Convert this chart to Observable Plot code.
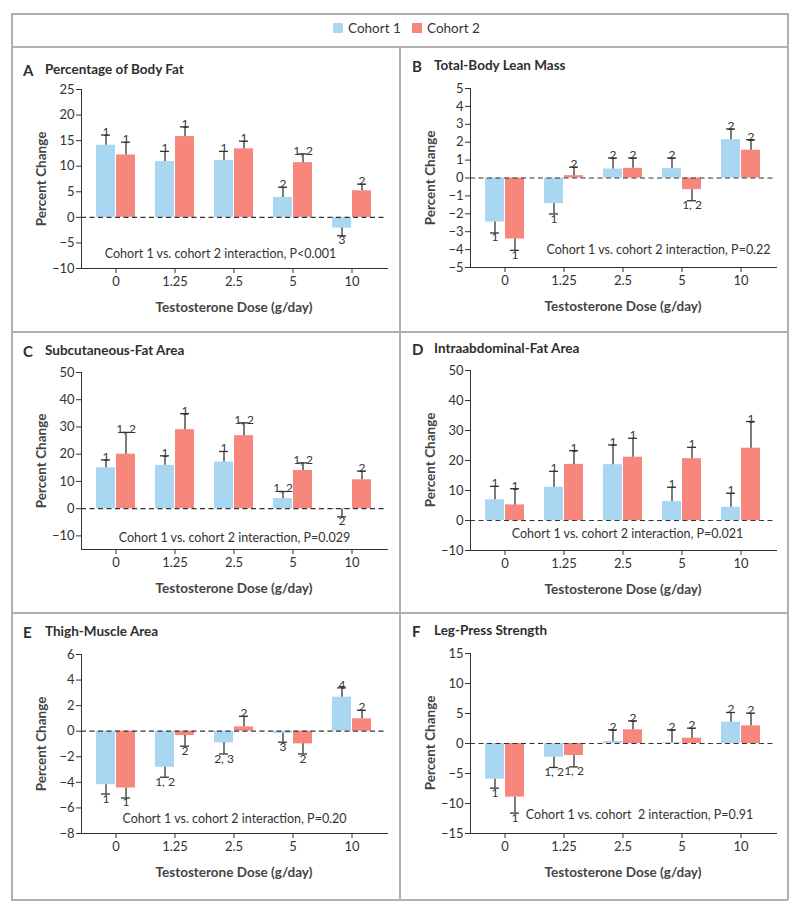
<!DOCTYPE html>
<html><head><meta charset="utf-8">
<script src="https://cdn.jsdelivr.net/npm/d3@7"></script>
<script src="https://cdn.jsdelivr.net/npm/@observablehq/plot@0.6"></script>
<style>
body{margin:0;background:#fff;font-family:Lato,"Noto Sans",sans-serif;}
#root{position:relative;width:800px;height:909px;overflow:hidden;}
.ln{position:absolute;background:#b0b0b0;}
.t{position:absolute;white-space:nowrap;line-height:1;color:#2e2e2e;}
.ttl{font-weight:bold;font-size:13.5px;transform:translateY(-50%);}
.ylab{font-weight:bold;font-size:13.5px;color:#444;transform:translate(-50%,-50%) rotate(-90deg);}
.xlab{font-weight:bold;font-size:13.5px;color:#444;transform:translate(-50%,-50%);}
.leg{font-size:13.5px;color:#333;transform:translateY(-50%);}
.sw{position:absolute;width:10px;height:10px;}
svg{position:absolute;overflow:visible;}
</style></head>
<body><div id="root"></div>
<script>
// ---------- data ----------
const doses = ["0", "1.25", "2.5", "5", "10"];
const cohorts = ["Cohort 1", "Cohort 2"];
const colors = ["#a9d6f1", "#f7867d"];

// A: Percentage of body fat
const fatC1 = [14.1, 10.9, 11.1, 3.9, -2.1];
const fatC1Se = [2.0, 2.0, 1.8, 2.0, 1.5];
const fatC1Sig = ["1", "1", "1", "2", "3"];
const fatC2 = [12.2, 15.8, 13.4, 10.7, 5.2];
const fatC2Se = [2.5, 1.9, 1.5, 1.7, 1.3];
const fatC2Sig = ["1", "1", "1", "1, 2", "2"];
const fatTicks = [-10, -5, 0, 5, 10, 15, 20, 25];

// B: Total-body lean mass
const leanC1 = [-2.46, -1.43, 0.5, 0.52, 2.14];
const leanC1Se = [0.61, 0.58, 0.62, 0.6, 0.6];
const leanC1Sig = ["1", "1", "2", "2", "2"];
const leanC2 = [-3.41, 0.13, 0.54, -0.65, 1.55];
const leanC2Se = [0.63, 0.48, 0.58, 0.62, 0.59];
const leanC2Sig = ["1", "2", "2", "1, 2", "2"];
const leanTicks = [-5, -4, -3, -2, -1, 0, 1, 2, 3, 4, 5];

// C: Subcutaneous-fat area
const subqC1 = [15.0, 15.9, 17.1, 3.7, -0.3];
const subqC1Se = [2.9, 3.5, 3.9, 2.6, 2.7];
const subqC1Sig = ["1", "1", "1", "1, 2", "2"];
const subqC2 = [20.0, 29.0, 26.8, 14.0, 10.6];
const subqC2Se = [8.0, 5.9, 4.7, 2.8, 3.2];
const subqC2Sig = ["1, 2", "1", "1, 2", "1, 2", "2"];
const subqTicks = [-10, 0, 10, 20, 30, 40, 50];

// D: Intraabdominal-fat area
const abdC1 = [6.9, 11.1, 18.6, 6.3, 4.4];
const abdC1Se = [4.5, 5.3, 6.6, 4.8, 4.7];
const abdC1Sig = ["1", "1", "1", "1", "1"];
const abdC2 = [5.2, 18.7, 21.1, 20.6, 24.1];
const abdC2Se = [5.4, 4.6, 6.3, 3.8, 8.9];
const abdC2Sig = ["1", "1", "1", "1", "1"];
const abdTicks = [-10, 0, 10, 20, 30, 40, 50];

// E: Thigh-muscle area
const thighC1 = [-4.18, -2.82, -0.91, -0.16, 2.66];
const thighC1Se = [0.73, 0.78, 0.87, 0.7, 0.73];
const thighC1Sig = ["1", "1, 2", "2, 3", "3", "4"];
const thighC2 = [-4.44, -0.34, 0.34, -0.99, 0.97];
const thighC2Se = [0.78, 0.83, 0.83, 0.79, 0.67];
const thighC2Sig = ["1", "2", "2", "2", "2"];
const thighTicks = [-8, -6, -4, -2, 0, 2, 4, 6];

// F: Leg-press strength
const legC1 = [-5.94, -2.28, 0.33, 0.15, 3.56];
const legC1Se = [1.5, 1.72, 1.95, 2.13, 1.61];
const legC1Sig = ["1", "1, 2", "2", "2", "2"];
const legC2 = [-8.94, -2.0, 2.28, 0.89, 2.94];
const legC2Se = [2.66, 1.9, 1.5, 1.67, 2.12];
const legC2Sig = ["1", "1, 2", "2", "2", "2"];
const legTicks = [-15, -10, -5, 0, 5, 10, 15];

const panels = [
  {letter: "A", title: "Percentage of Body Fat", c1: fatC1, c1se: fatC1Se, c1sig: fatC1Sig, c2: fatC2, c2se: fatC2Se, c2sig: fatC2Sig, ticks: fatTicks, domain: [-10, 25], note: "Cohort 1 vs. cohort 2 interaction, P<0.001"},
  {letter: "B", title: "Total-Body Lean Mass", c1: leanC1, c1se: leanC1Se, c1sig: leanC1Sig, c2: leanC2, c2se: leanC2Se, c2sig: leanC2Sig, ticks: leanTicks, domain: [-5, 5], note: "Cohort 1 vs. cohort 2 interaction, P=0.22"},
  {letter: "C", title: "Subcutaneous-Fat Area", c1: subqC1, c1se: subqC1Se, c1sig: subqC1Sig, c2: subqC2, c2se: subqC2Se, c2sig: subqC2Sig, ticks: subqTicks, domain: [-15, 50], note: "Cohort 1 vs. cohort 2 interaction, P=0.029"},
  {letter: "D", title: "Intraabdominal-Fat Area", c1: abdC1, c1se: abdC1Se, c1sig: abdC1Sig, c2: abdC2, c2se: abdC2Se, c2sig: abdC2Sig, ticks: abdTicks, domain: [-10, 50], note: "Cohort 1 vs. cohort 2 interaction, P=0.021"},
  {letter: "E", title: "Thigh-Muscle Area", c1: thighC1, c1se: thighC1Se, c1sig: thighC1Sig, c2: thighC2, c2se: thighC2Se, c2sig: thighC2Sig, ticks: thighTicks, domain: [-8, 6], note: "Cohort 1 vs. cohort 2 interaction, P=0.20"},
  {letter: "F", title: "Leg-Press Strength", c1: legC1, c1se: legC1Se, c1sig: legC1Sig, c2: legC2, c2se: legC2Se, c2sig: legC2Sig, ticks: legTicks, domain: [-15, 15], note: "Cohort 1 vs. cohort  2 interaction, P=0.91"}
];

// ---------- layout (pixels) ----------
const layout = [
  {left: 11, top: 89, h: 179, titleY: 70, noteDx: 139, noteDy: -11},
  {left: 400, top: 88, h: 179, titleY: 66, noteDx: 188, noteDy: -14},
  {left: 11, top: 372, h: 177, titleY: 351, noteDx: 153, noteDy: -8},
  {left: 400, top: 370, h: 180, titleY: 349, noteDx: 157, noteDy: -13},
  {left: 11, top: 654, h: 179, titleY: 632, noteDx: 153, noteDy: -11},
  {left: 400, top: 653, h: 180, titleY: 631, noteDx: 169, noteDy: -15}
];

const root = document.getElementById("root");
function add(cls, css, text) {
  const e = document.createElement("div");
  e.className = cls;
  Object.assign(e.style, css);
  if (text != null) e.textContent = text;
  root.appendChild(e);
  return e;
}

// frame lines
add("ln", {left: "11px", top: "13px", width: "777px", height: "1.5px"});
add("ln", {left: "11px", top: "899px", width: "777px", height: "1.5px"});
add("ln", {left: "11px", top: "13px", width: "1.5px", height: "887px"});
add("ln", {left: "787px", top: "13px", width: "1.5px", height: "887px"});
add("ln", {left: "11px", top: "46px", width: "777px", height: "1.5px"});
add("ln", {left: "11px", top: "331px", width: "777px", height: "1.5px"});
add("ln", {left: "11px", top: "612px", width: "777px", height: "1.5px"});
add("ln", {left: "399px", top: "46px", width: "1.5px", height: "854px"});

// legend
add("sw", {left: "333px", top: "23px", background: colors[0]});
add("t leg", {left: "348px", top: "29px"}, cohorts[0]);
add("sw", {left: "412px", top: "23px", background: colors[1]});
add("t leg", {left: "427px", top: "29px"}, cohorts[1]);

const M = {top: 10, bottom: 52, left: 70, right: 12};
const ink = "#333";

panels.forEach((p, k) => {
  const L = layout[k];
  const rows = (vals, se, sig) => doses.map((d, i) => ({
    dose: d, v: vals[i], end: vals[i] + (vals[i] < 0 ? -se[i] : se[i]), sig: sig[i]
  }));
  const d1 = rows(p.c1, p.c1se, p.c1sig);
  const d2 = rows(p.c2, p.c2se, p.c2sig);
  const marks = [
    Plot.barY(d1, {x: "dose", y: "v", fill: colors[0], insetRight: 20}),
    Plot.barY(d2, {x: "dose", y: "v", fill: colors[1], insetLeft: 20}),
    Plot.ruleY([0], {stroke: ink, strokeWidth: 1.2, strokeDasharray: "5,3.5"})
  ];
  [[d1, -10, {insetLeft: 5, insetRight: 25}], [d2, 10, {insetLeft: 25, insetRight: 5}]].forEach(([d, dx, capInset]) => {
    marks.push(Plot.ruleX(d, {x: "dose", y1: "v", y2: "end", dx, stroke: ink, strokeWidth: 1.3}));
    marks.push(Plot.tickY(d, {x: "dose", y: "end", stroke: ink, strokeWidth: 1.3, ...capInset}));
    marks.push(Plot.text(d.filter(r => r.v >= 0), {x: "dose", y: "end", text: "sig", dx, dy: 1, lineAnchor: "bottom", fontSize: 12, fill: ink}));
    marks.push(Plot.text(d.filter(r => r.v < 0), {x: "dose", y: "end", text: "sig", dx, dy: 0, lineAnchor: "top", fontSize: 12, fill: ink}));
  });
  marks.push(Plot.text([p.note], {text: d => d, frameAnchor: "bottom-left", dx: L.noteDx, dy: L.noteDy, textAnchor: "middle", fontSize: 12.5, fill: ink}));

  const chart = Plot.plot({
    width: 388,
    height: M.top + L.h + M.bottom,
    marginTop: M.top, marginBottom: M.bottom, marginLeft: M.left, marginRight: M.right,
    style: {fontFamily: "Lato, 'Noto Sans', sans-serif", fontSize: "13px", color: ink, background: "transparent", overflow: "visible"},
    x: {type: "band", domain: doses, paddingInner: 1 / 3, paddingOuter: 0.2167, label: null, line: true, tickSize: 5, tickPadding: 3},
    y: {domain: p.domain, ticks: p.ticks, tickFormat: d3.format("d"), label: null, line: true, tickSize: 5, tickPadding: 2},
    marks
  });
  chart.style.left = L.left + "px";
  chart.style.top = (L.top - M.top) + "px";
  root.appendChild(chart);

  // titles
  add("t ttl", {left: (L.left + 12) + "px", top: L.titleY + "px", fontSize: "15px"}, p.letter);
  add("t ttl", {left: (L.left + 34) + "px", top: L.titleY + "px"}, p.title);
  add("t ylab", {left: (L.left + 31) + "px", top: (L.top + L.h / 2) + "px"}, "Percent Change");
  add("t xlab", {left: (L.left + M.left + 153) + "px", top: (L.top + L.h + 40) + "px"}, "Testosterone Dose (g/day)");
});
</script>
</body></html>
